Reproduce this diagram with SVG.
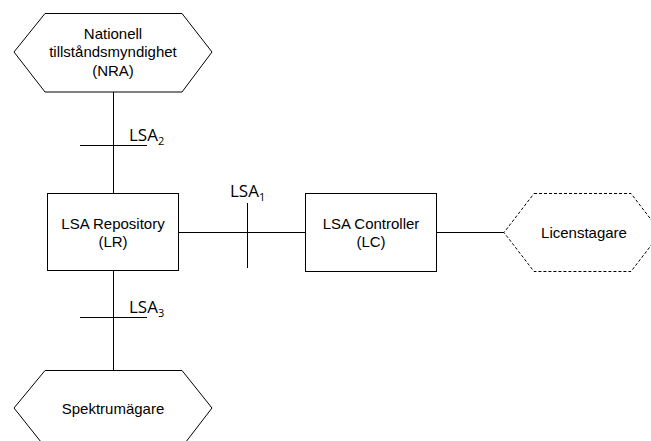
<svg xmlns="http://www.w3.org/2000/svg" width="651" height="441" viewBox="0 0 651 441">
<style>
.s{fill:#fff;stroke:#000;stroke-width:1}
.d{fill:#fff;stroke:#000;stroke-width:1;stroke-dasharray:3,2}
.t{font-family:"Liberation Sans",Arial,sans-serif;font-size:15px;text-anchor:middle;fill:#000}
.l{font-family:"Open Sans","Liberation Sans",sans-serif;font-size:17px;fill:#000}
.b{font-size:11px}
.c{stroke:#000;stroke-width:1;fill:none}
</style>
<rect width="651" height="441" fill="#fff"/>
<g id="connectors">
<line class="c" x1="113.5" y1="92" x2="113.5" y2="193"/>
<line class="c" x1="80" y1="145.5" x2="147" y2="145.5"/>
<line class="c" x1="113.5" y1="271" x2="113.5" y2="370"/>
<line class="c" x1="80" y1="317.5" x2="147" y2="317.5"/>
<line class="c" x1="179" y1="232.5" x2="305" y2="232.5"/>
<line class="c" x1="247.5" y1="203" x2="247.5" y2="268"/>
<line class="c" x1="437" y1="232.5" x2="504" y2="232.5"/>
<text class="l" x="129" y="141">LSA<tspan class="b" dy="4">2</tspan></text>
<text class="l" x="230" y="197">LSA<tspan class="b" dy="4">1</tspan></text>
<text class="l" x="129" y="313">LSA<tspan class="b" dy="4">3</tspan></text>
</g>
<g id="nra">
<polygon class="s" points="45,13.5 182,13.5 212,52 182,92 45,92 14,52"/>
<text class="t" x="113" y="38.5">Nationell</text>
<text class="t" x="113" y="57">tillståndsmyndighet</text>
<text class="t" x="113" y="75.5">(NRA)</text>
</g>
<g id="lr">
<rect class="s" x="47.5" y="193.5" width="131" height="77"/>
<text class="t" x="113" y="228.5">LSA Repository</text>
<text class="t" x="113" y="246.5">(LR)</text>
</g>
<g id="lc">
<rect class="s" x="305.5" y="193.5" width="131" height="78"/>
<text class="t" x="371" y="228.5">LSA Controller</text>
<text class="t" x="371" y="246.5">(LC)</text>
</g>
<g id="licenstagare">
<polygon class="d" points="534,193.5 631,193.5 661,232.5 631,271.5 534,271.5 504,232.5"/>
<text class="t" x="584" y="238">Licenstagare</text>
</g>
<g id="spektrum">
<polygon class="s" points="45,370.5 182,370.5 212,408 182,447 45,447 14,408"/>
<text class="t" x="113" y="414">Spektrumägare</text>
</g>
</svg>
